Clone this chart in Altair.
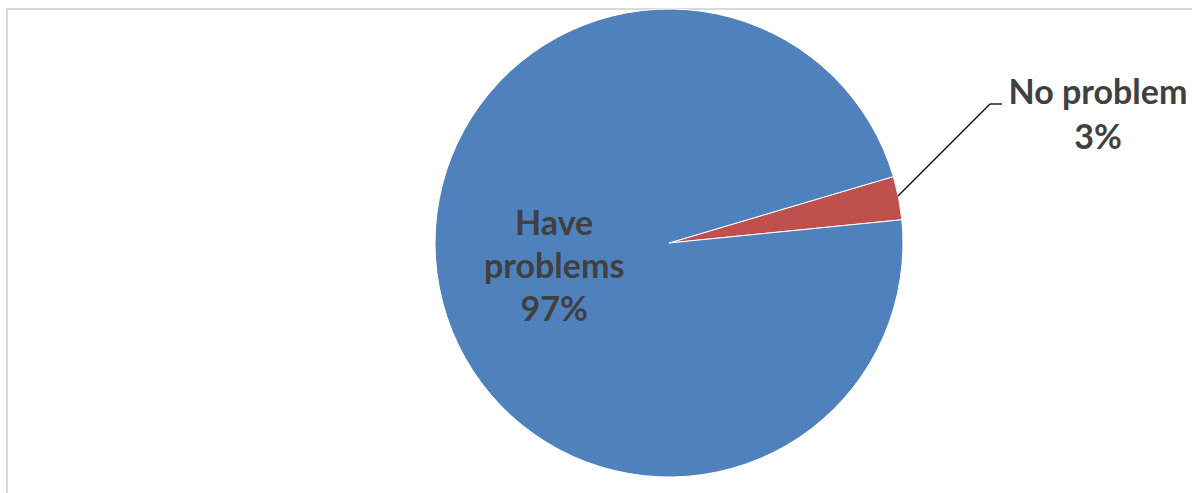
import math
import altair as alt
import pandas as pd

# ---- data ----
categories = ["No problem", "Have problems"]
values = [3, 97]
slice_colors = ["#c0504d", "#4f81bd"]
slice_order = [0, 1]

df = pd.DataFrame({"category": categories, "value": values, "ord": slice_order})

START = math.radians(73.5)
W, H = 1192, 493
CX, CY, R = 669, 243, 234
FONT = "Lato"
FS = 34
TXT = "#404040"

theta = alt.Theta("value:Q", stack=True,
                  scale=alt.Scale(domain=[0, 100], range=[START, START + 2 * math.pi]))
color = alt.Color("category:N", scale=alt.Scale(domain=categories, range=slice_colors), legend=None)
order = alt.Order("ord:Q")

base = alt.Chart(df)

frame = base.mark_rect(fill=None, stroke="#d9d9d9", strokeWidth=2).encode(
    x=alt.value(7), y=alt.value(9), x2=alt.value(W + 10), y2=alt.value(H + 10)
).transform_filter("datum.ord == 0")

pie = base.mark_arc(stroke="white", strokeWidth=1).encode(
    theta=theta, color=color, order=order,
    x=alt.value(CX), y=alt.value(CY), radius=alt.value(R)
)

inner = base.transform_calculate(
    label="datum.category == 'Have problems' ? 'Have\\nproblems\\n' + datum.value + '%' : ''"
).mark_text(font=FONT, fontSize=FS, fontWeight="bold", color=TXT, lineBreak="\n",
            lineHeight=43, baseline="middle", align="center", dy=-41).encode(
    theta=theta, order=order, text="label:N",
    x=alt.value(CX), y=alt.value(CY), radius=alt.value(117)
)

outer = base.transform_filter("datum.category == 'No problem'").transform_calculate(
    label="datum.category + '\\n' + datum.value + '%'"
).mark_text(font=FONT, fontSize=FS, fontWeight="bold", color=TXT, lineBreak="\n",
            lineHeight=45, baseline="alphabetic", align="center").encode(
    text="label:N", x=alt.value(1098), y=alt.value(104)
)

leader1 = base.transform_filter("datum.ord == 0").mark_rule(color="black", strokeWidth=1.3).encode(
    x=alt.value(898), y=alt.value(196), x2=alt.value(990), y2=alt.value(104)
)
leader2 = base.transform_filter("datum.ord == 0").mark_rule(color="black", strokeWidth=1.3).encode(
    x=alt.value(990), y=alt.value(104), x2=alt.value(1002), y2=alt.value(104)
)

chart = alt.layer(frame, pie, inner, leader1, leader2, outer).properties(
    width=W, height=H, autosize=alt.AutoSizeParams(type="none"), padding=0,
    background="white"
).configure_view(stroke=None)

chart.save("out.html", embed_options={"renderer": "svg", "actions": False})
